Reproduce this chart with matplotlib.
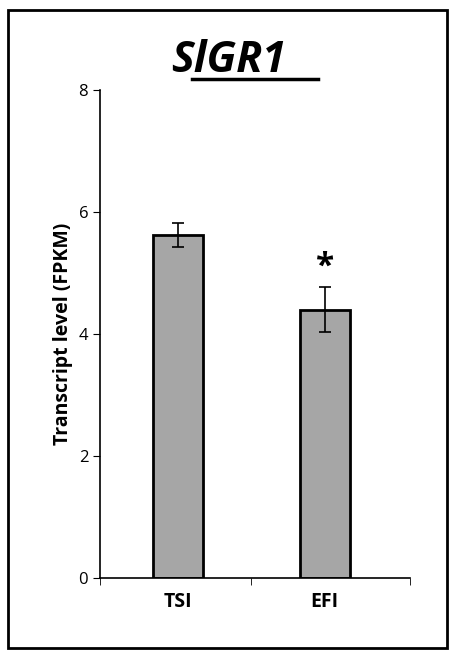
import matplotlib
matplotlib.use("Agg")
import matplotlib.pyplot as plt
from matplotlib.patches import Rectangle

categories = ["TSI", "EFI"]
values = [5.62, 4.40]
errors = [0.20, 0.37]
yticks = [0, 2, 4, 6, 8]

plt.rcParams['font.family'] = ['Open Sans', 'DejaVu Sans']
fig = plt.figure(figsize=(4.57, 6.58), dpi=100)
fig.patches.append(Rectangle((8/457, 10/658), 439/457, 638/658, transform=fig.transFigure,
                             fill=False, edgecolor='black', linewidth=2))
ax = fig.add_axes([100/457, 80/658, 310/457, 488/658])
x = list(range(len(categories)))
ax.bar(x, values, width=0.34, color='#a6a6a6', edgecolor='black', linewidth=2,
       yerr=errors, capsize=4, error_kw=dict(elinewidth=1.2, capthick=1.2), zorder=2)
ax.set_xlim(-0.53, 1.58)
ax.set_ylim(0, 8)
ax.set_yticks(yticks)
ax.set_yticklabels([str(v) for v in yticks], fontsize=12)
ax.set_xticks(x)
ax.set_xticklabels(categories, fontsize=14, fontweight='bold')
ax.tick_params(axis='x', length=0, pad=10)
ax.set_xticks([-0.53, 0.5, 1.58], minor=True)
ax.tick_params(axis='x', which='minor', length=5, direction='out')
ax.tick_params(axis='y', length=5, direction='out')
for s in ['top', 'right']:
    ax.spines[s].set_visible(False)
ax.spines['left'].set_linewidth(1.2)
ax.spines['bottom'].set_linewidth(1.2)
ax.set_ylabel("Transcript level (FPKM)", fontsize=14, fontweight='bold')
ax.text(1, values[1] + errors[1] + 0.05, "*", ha='center', va='bottom', fontsize=24, fontweight='bold')
fig.text(0.5, 1 - 60/658, "SlGR1", ha='center', va='center', fontsize=31,
         fontweight='bold', fontstyle='italic')
fig.add_artist(plt.Line2D([192/457, 318/457], [1-79/658, 1-79/658], color='black', linewidth=2.5))
fig.savefig("out.png", dpi=100)
